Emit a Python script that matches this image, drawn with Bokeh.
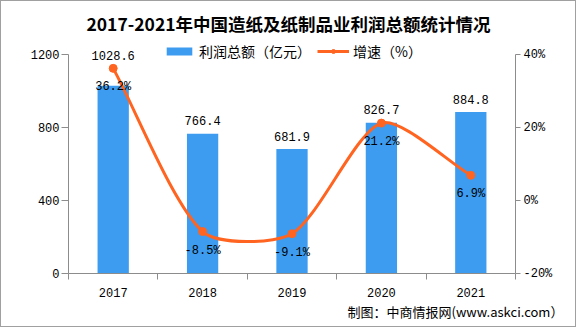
import math
from bokeh.plotting import figure
from bokeh.models import (Range1d, LinearAxis, FixedTicker, Legend, LegendItem,
                          Label, Title, PrintfTickFormatter)
from bokeh.core.properties import value
from bokeh.embed import file_html
from bokeh.resources import INLINE

# ---------------- data ----------------
years = ["2017", "2018", "2019", "2020", "2021"]
profit = [1028.6, 766.4, 681.9, 826.7, 884.8]      # 利润总额（亿元）
growth = [36.2, -8.5, -9.1, 21.2, 6.9]             # 增速（%）
left_ticks = [0, 400, 800, 1200]
right_ticks = [-20, 0, 20, 40]

title_text = "2017-2021年中国造纸及纸制品业利润总额统计情况"
bar_name = "利润总额（亿元）"
line_name = "增速（%）"
source_a = "制图：中商情报网"
source_b = "(www.askci.com）"

# ---------------- style / layout ----------------
W, H = 576, 327
BL, BR, BB = 68, 61, 54          # side borders (frame reaches the top of canvas)
PLOT_TOP = 54                    # pixel row of the top tick (1200 / 40%)
BAR_COLOR = "#3d9cf0"
LINE_COLOR = "#ff6420"
AXIS_COLOR = "#8c8c8c"
NUM_FONT = "Liberation Mono"
CJK_FONT = "Noto Sans CJK SC"
SMOOTH = 0.25

L_MIN, L_MAX = left_ticks[0], left_ticks[-1]
R_MIN, R_MAX = right_ticks[0], right_ticks[-1]

frame_h = H - BB                 # frame spans from canvas top to the x axis
plot_h = frame_h - PLOT_TOP      # height of the tick span
L_TOP = L_MAX + (L_MAX - L_MIN) * PLOT_TOP / plot_h
R_TOP = R_MAX + (R_MAX - R_MIN) * PLOT_TOP / plot_h

n = len(years)
xs = [i + 0.5 for i in range(n)]

p = figure(width=W, height=H, output_backend="svg", toolbar_location=None,
           x_range=Range1d(0, n), y_range=Range1d(L_MIN, L_TOP),
           min_border_left=BL, min_border_right=BR,
           min_border_top=0, min_border_bottom=BB)
p.extra_y_ranges = {"pct": Range1d(R_MIN, R_TOP)}
p.grid.visible = False
p.outline_line_color = None
p.border_fill_color = None
p.background_fill_color = None
p.styles = {"box-shadow": "inset 0 0 0 1px #a0a0a0", "background-color": "white"}

# x axis
xa = p.xaxis[0]
xa.ticker = FixedTicker(ticks=xs, minor_ticks=list(range(n + 1)))
xa.major_label_overrides = {x: y for x, y in zip(xs, years)}
xa.major_tick_out = 0
xa.major_tick_in = 0
xa.minor_tick_out = 6
xa.minor_tick_in = 0
xa.axis_line_color = AXIS_COLOR
xa.minor_tick_line_color = AXIS_COLOR
xa.major_label_text_font = NUM_FONT
xa.major_label_text_font_size = "12px"
xa.major_label_text_color = "#000000"
xa.major_label_standoff = 8

# left axis
ya = p.yaxis[0]
ya.ticker = FixedTicker(ticks=left_ticks)
ya.bounds = (L_MIN, L_MAX)
ya.major_tick_out = 7
ya.major_tick_in = 0
ya.minor_tick_out = 0
ya.minor_tick_in = 0
ya.axis_line_color = AXIS_COLOR
ya.major_tick_line_color = AXIS_COLOR
ya.major_label_text_font = NUM_FONT
ya.major_label_text_font_size = "12px"
ya.major_label_text_color = "#000000"
ya.major_label_standoff = 2

# right axis
ra = LinearAxis(y_range_name="pct", ticker=FixedTicker(ticks=right_ticks),
                formatter=PrintfTickFormatter(format="%d%%"), bounds=(R_MIN, R_MAX))
ra.major_tick_out = 5
ra.major_tick_in = 0
ra.minor_tick_out = 0
ra.minor_tick_in = 0
ra.axis_line_color = AXIS_COLOR
ra.major_tick_line_color = AXIS_COLOR
ra.major_label_text_font = NUM_FONT
ra.major_label_text_font_size = "12px"
ra.major_label_text_color = "#000000"
ra.major_label_standoff = 3
p.add_layout(ra, "right")

# bars
bars = p.vbar(x=xs, top=profit, width=0.35, fill_color=BAR_COLOR, line_color=None)

# smooth line (bezier segments built from the data points)
fw = W - BL - BR
kx = fw / n
ky = plot_h / (R_MAX - R_MIN)
px = [x * kx for x in xs]
py = [g * ky for g in growth]
cin, cout = [], []
for i in range(n):
    a = i - 1 if i > 0 else i
    b = i + 1 if i < n - 1 else i
    vx, vy = px[b] - px[a], py[b] - py[a]
    d0 = math.hypot(px[i] - px[a], py[i] - py[a])
    d1 = math.hypot(px[b] - px[i], py[b] - py[i])
    r = d1 / (d0 + d1) if (d0 + d1) > 0 else 0.5
    cin.append(((px[i] - vx * SMOOTH * (1 - r)) / kx, (py[i] - vy * SMOOTH * (1 - r)) / ky))
    cout.append(((px[i] + vx * SMOOTH * r) / kx, (py[i] + vy * SMOOTH * r) / ky))

curve = p.bezier(x0=xs[:-1], y0=growth[:-1], x1=xs[1:], y1=growth[1:],
                 cx0=[c[0] for c in cout[:-1]], cy0=[c[1] for c in cout[:-1]],
                 cx1=[c[0] for c in cin[1:]], cy1=[c[1] for c in cin[1:]],
                 line_color=LINE_COLOR, line_width=3, y_range_name="pct")
dots = p.scatter(x=xs, y=growth, size=8, fill_color=LINE_COLOR, line_color=LINE_COLOR,
                 y_range_name="pct")

# value labels
def pct_to_left(g):
    return (g - R_MIN) / (R_MAX - R_MIN) * (L_MAX - L_MIN) + L_MIN

bar_anchor = [max(v, pct_to_left(g)) for v, g in zip(profit, growth)]
p.text(x=xs, y=bar_anchor, text=[f"{v:.1f}" for v in profit],
       text_font=value(NUM_FONT), text_font_size="12px", text_color="#000000",
       text_align="center", text_baseline="middle", y_offset=-13)
p.text(x=xs, y=growth, text=[f"{g:.1f}%" for g in growth], y_range_name="pct",
       text_font=value(NUM_FONT), text_font_size="12px", text_color="#000000",
       text_align="center", text_baseline="middle", y_offset=19)

# legend (centred on the top tick row)
legend = Legend(items=[LegendItem(label=bar_name, renderers=[bars]),
                       LegendItem(label=line_name, renderers=[curve, dots])],
                orientation="horizontal", location=(95, frame_h - PLOT_TOP - 7),
                glyph_width=32, glyph_height=10, label_height=14,
                label_standoff=4, spacing=6, padding=0, margin=0,
                label_text_font=CJK_FONT, label_text_font_size="14px",
                label_text_color="#000000", background_fill_alpha=0,
                border_line_color=None)
p.add_layout(legend, "center")

# title (inside the tall frame, above the plot area)
p.add_layout(Label(x=220, y=frame_h - 23, x_units="screen", y_units="screen",
                   text=title_text, text_align="center", text_baseline="middle",
                   text_font=CJK_FONT, text_font_size="17.5px", text_font_style="bold",
                   text_color="#000000"))

# source line below the x axis
p.add_layout(Title(text=source_a + source_b, align="left", offset=279,
                   text_font=CJK_FONT, text_font_size="13px",
                   text_font_style="normal", text_color="#000000",
                   standoff=0), "below")

open("out.html", "w").write(file_html(p, INLINE))
